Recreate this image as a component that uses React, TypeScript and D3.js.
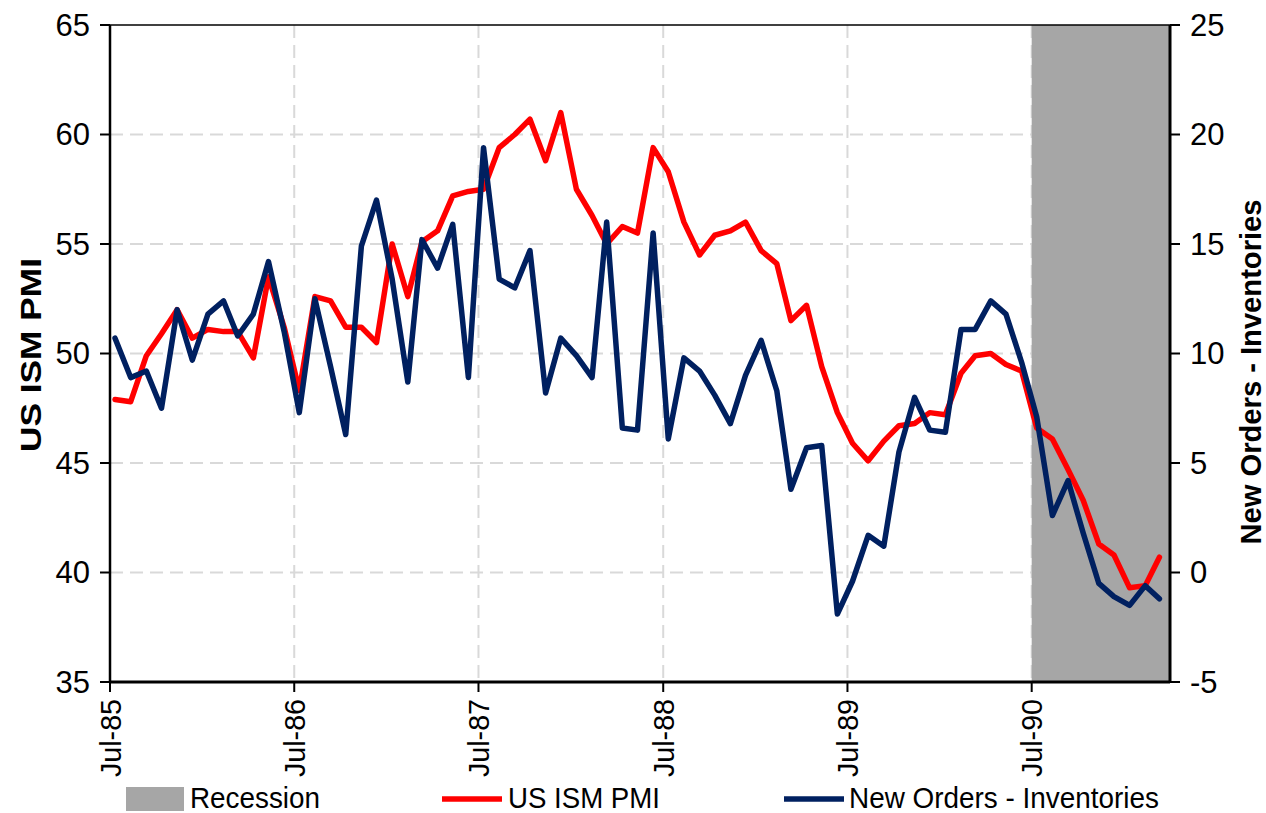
import React from "react";
import * as d3 from "d3";

const startYear = 1985;
const startMonth = 6; // July (0-based)

const pmi = [
  47.9, 47.8, 49.9, 50.9, 52.0, 50.7, 51.1, 51.0, 51.0, 49.8, 53.5, 51.2,
  48.3, 52.6, 52.4, 51.2, 51.2, 50.5, 55.0, 52.6, 55.1, 55.6, 57.2, 57.4,
  57.5, 59.4, 60.0, 60.7, 58.8, 61.0, 57.5, 56.3, 55.0, 55.8, 55.5, 59.4,
  58.3, 56.0, 54.5, 55.4, 55.6, 56.0, 54.7, 54.1, 51.5, 52.2, 49.4, 47.3,
  45.9, 45.1, 46.0, 46.7, 46.8, 47.3, 47.2, 49.1, 49.9, 50.0, 49.5, 49.2,
  46.6, 46.1, 44.7, 43.3, 41.3, 40.8, 39.3, 39.4, 40.7,
];

const newOrdersMinusInv = [
  10.7, 8.9, 9.2, 7.5, 12.0, 9.7, 11.8, 12.4, 10.8, 11.8, 14.2, 11.0,
  7.3, 12.5, 9.4, 6.3, 14.9, 17.0, 13.4, 8.7, 15.2, 13.9, 15.9, 8.9,
  19.4, 13.4, 13.0, 14.7, 8.2, 10.7, 9.9, 8.9, 16.0, 6.6, 6.5, 15.5,
  6.1, 9.8, 9.2, 8.1, 6.8, 9.0, 10.6, 8.3, 3.8, 5.7, 5.8, -1.9,
  -0.4, 1.7, 1.2, 5.5, 8.0, 6.5, 6.4, 11.1, 11.1, 12.4, 11.8, 9.6,
  7.1, 2.6, 4.2, 1.8, -0.5, -1.1, -1.5, -0.6, -1.2,
];

const leftTicks = [35, 40, 45, 50, 55, 60, 65];
const rightTicks = [-5, 0, 5, 10, 15, 20, 25];
const xTickYears = [1985, 1986, 1987, 1988, 1989, 1990];
const recessionStart = new Date(1990, 6, 1);

const W = 1266;
const H = 813;
const L = 110;
const R = 1170;
const T = 25;
const B = 682;

const fmt = d3.timeFormat("%b-%y");

export default function App() {
  const x = d3
    .scaleTime()
    .domain([new Date(1985, 6, 1), new Date(1991, 3, 1)])
    .range([L, R]);
  const yL = d3.scaleLinear().domain([35, 65]).range([B, T]);
  const yR = d3.scaleLinear().domain([-5, 25]).range([B, T]);

  const dateOf = (i: number) => new Date(startYear, startMonth + i, 11);

  const redLine = d3
    .line<number>()
    .x((_, i) => x(dateOf(i)))
    .y((d) => yL(d));
  const blueLine = d3
    .line<number>()
    .x((_, i) => x(dateOf(i)))
    .y((d) => yR(d));

  const xTicks = xTickYears.map((y) => new Date(y, 6, 1));
  const font = "'Liberation Sans', Arial, sans-serif";
  const narrow = "'Liberation Sans Narrow', 'Arial Narrow', 'Liberation Sans', sans-serif";

  return (
    <svg
      width={W}
      height={H}
      style={{ position: "absolute", left: 0, top: 0, background: "#fff" }}
    >
      {/* gridlines */}
      <g stroke="#d9d9d9" strokeWidth={2} strokeDasharray="13,7">
        {leftTicks
          .filter((t) => t !== 35 && t !== 65)
          .map((t) => (
            <line key={"h" + t} x1={L} x2={R} y1={yL(t)} y2={yL(t)} />
          ))}
        {xTicks.slice(1).map((d, i) => (
          <line key={"v" + i} x1={x(d)} x2={x(d)} y1={T} y2={B} />
        ))}
      </g>
      {/* recession */}
      <rect
        x={x(recessionStart)}
        y={T}
        width={R - x(recessionStart)}
        height={B - T}
        fill="#a6a6a6"
      />
      {/* series */}
      <path
        d={redLine(pmi) || ""}
        fill="none"
        stroke="#ff0000"
        strokeWidth={5.5}
        strokeLinejoin="round"
        strokeLinecap="round"
      />
      <path
        d={blueLine(newOrdersMinusInv) || ""}
        fill="none"
        stroke="#002060"
        strokeWidth={5.5}
        strokeLinejoin="round"
        strokeLinecap="round"
      />
      {/* axes */}
      <g stroke="#000" strokeWidth={2.5}>
        <line x1={L} x2={L} y1={T} y2={B} />
        <line x1={R} x2={R} y1={T} y2={B} strokeWidth={3} />
        <line x1={L} x2={R} y1={B} y2={B} strokeWidth={3} />
        <line x1={L} x2={R} y1={T} y2={T} strokeWidth={1.5} />
        {leftTicks.map((t) => (
          <line key={"lt" + t} x1={L - 10} x2={L} y1={yL(t)} y2={yL(t)} strokeWidth={2} />
        ))}
        {rightTicks.map((t) => (
          <line key={"rt" + t} x1={R} x2={R + 10} y1={yR(t)} y2={yR(t)} strokeWidth={2} />
        ))}
        {xTicks.map((d, i) => (
          <line key={"xt" + i} x1={x(d)} x2={x(d)} y1={B} y2={B + 10} strokeWidth={2} />
        ))}
      </g>
      {/* tick labels */}
      <g fontFamily={font} fontSize={31} fill="#000">
        {leftTicks.map((t) => (
          <text key={"ll" + t} x={L - 20} y={yL(t)} dy="0.35em" textAnchor="end">
            {t}
          </text>
        ))}
        {rightTicks.map((t) => (
          <text key={"rl" + t} x={R + 20} y={yR(t)} dy="0.35em" textAnchor="start">
            {t}
          </text>
        ))}
      </g>
      <g fontFamily={font} fontSize={30} fill="#000">
        {xTicks.map((d, i) => (
          <text
            key={"xl" + i}
            transform={`translate(${x(d)},${B + 17}) rotate(-90)`}
            dy="0.35em"
            textAnchor="end"
            textLength={78}
            lengthAdjust="spacingAndGlyphs"
          >
            {fmt(d)}
          </text>
        ))}
      </g>
      {/* axis titles */}
      <text
        transform={`translate(30,355) rotate(-90)`}
        dy="0.35em"
        textAnchor="middle"
        fontFamily={narrow}
        fontWeight="bold"
        fontSize={30}
        textLength={194}
        lengthAdjust="spacingAndGlyphs"
      >
        US ISM PMI
      </text>
      <text
        transform={`translate(1250,372) rotate(-90)`}
        dy="0.35em"
        textAnchor="middle"
        fontFamily={narrow}
        fontWeight="bold"
        fontSize={30}
        textLength={345}
        lengthAdjust="spacingAndGlyphs"
      >
        New Orders - Inventories
      </text>
      {/* legend */}
      <g fontFamily={narrow} fontSize={29} fill="#000">
        <rect x={126} y={787} width={58} height={24} fill="#a6a6a6" />
        <text x={190} y={808} textLength={130} lengthAdjust="spacingAndGlyphs">
          Recession
        </text>
        <line x1={442} x2={502} y1={799} y2={799} stroke="#ff0000" strokeWidth={5.5} />
        <text x={508} y={808} textLength={152} lengthAdjust="spacingAndGlyphs">
          US ISM PMI
        </text>
        <line x1={784} x2={844} y1={799} y2={799} stroke="#002060" strokeWidth={5.5} />
        <text x={849} y={808} textLength={310} lengthAdjust="spacingAndGlyphs">
          New Orders - Inventories
        </text>
      </g>
    </svg>
  );
}
